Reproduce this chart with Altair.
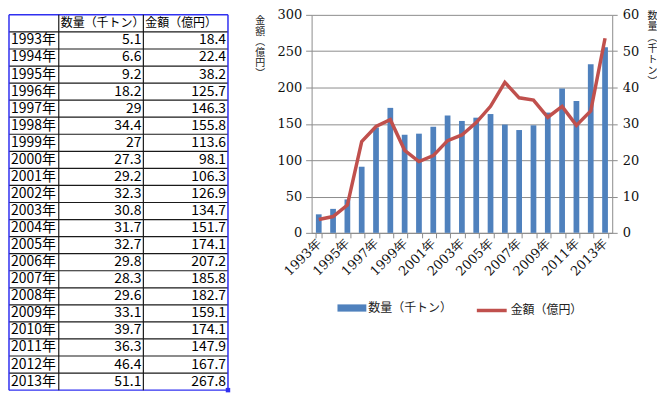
import altair as alt
import pandas as pd

# ---------------- data ----------------
years = ["1993年", "1994年", "1995年", "1996年", "1997年", "1998年", "1999年",
         "2000年", "2001年", "2002年", "2003年", "2004年", "2005年", "2006年",
         "2007年", "2008年", "2009年", "2010年", "2011年", "2012年", "2013年"]
qty = [5.1, 6.6, 9.2, 18.2, 29, 34.4, 27, 27.3, 29.2, 32.3, 30.8, 31.7, 32.7,
       29.8, 28.3, 29.6, 33.1, 39.7, 36.3, 46.4, 51.1]
amt = [18.4, 22.4, 38.2, 125.7, 146.3, 155.8, 113.6, 98.1, 106.3, 126.9, 134.7,
       151.7, 174.1, 207.2, 185.8, 182.7, 159.1, 174.1, 147.9, 167.7, 267.8]
qty_name = "数量（千トン）"
amt_name = "金額（億円）"
amt_axis_title = ["金", "額", "︵", "億", "円", "︶"]
qty_axis_title = ["数", "量", "︵", "千", "ト", "ン", "︶"]
amt_ticks = [0, 50, 100, 150, 200, 250, 300]
qty_ticks = [0, 10, 20, 30, 40, 50, 60]

# ---------------- layout / style ----------------
COL_W = [50, 85, 85]
TABLE_W = sum(COL_W)
TABLE_H = 377
CHART_W = 302
CHART_H = 219
BLUE = "#4F81BD"
RED = "#C0504D"
GRID = "#8C8C8C"
BORDER = "#3030F0"
JP = "Noto Sans CJK JP"
SERIF = "DejaVu Serif"

edges = [0]
for w in COL_W:
    edges.append(edges[-1] + w)
n_rows = len(years) + 1

# ---------------- table ----------------
left_cells = [{"x": edges[1] + 2, "y": 0.5, "t": qty_name, "s": 12},
              {"x": edges[2] + 2, "y": 0.5, "t": amt_name, "s": 12}]
right_cells = []
for i, (yr, q, a) in enumerate(zip(years, qty, amt)):
    r = i + 1.5
    left_cells.append({"x": edges[0] + 2, "y": r, "t": yr, "s": 14})
    right_cells.append({"x": edges[2] - 2, "y": r, "t": f"{q:g}", "s": 14})
    right_cells.append({"x": edges[3] - 2, "y": r, "t": f"{a:g}", "s": 14})

hlines = pd.DataFrame([{"y": k, "x0": 0, "x1": TABLE_W,
                        "c": BORDER if k in (0, n_rows) else "#1a1a1a",
                        "w": 1.5 if k in (0, n_rows) else 1.2}
                       for k in range(n_rows + 1)])
vlines = pd.DataFrame([{"x": e, "y0": 0, "y1": n_rows,
                        "c": BORDER if e in (0, TABLE_W) else "#1a1a1a",
                        "w": 1.5 if e in (0, TABLE_W) else 1.2}
                       for e in edges])

tx = alt.Scale(domain=[0, TABLE_W], nice=False, zero=False)
ty = alt.Scale(domain=[0, n_rows], nice=False, zero=False, reverse=True)

h_rule = alt.Chart(hlines).mark_rule().encode(
    x=alt.X("x0:Q", scale=tx, axis=None), x2="x1:Q",
    y=alt.Y("y:Q", scale=ty, axis=None),
    color=alt.Color("c:N", scale=None),
    strokeWidth=alt.StrokeWidth("w:Q", scale=None))
v_rule = alt.Chart(vlines).mark_rule().encode(
    x=alt.X("x:Q", scale=tx, axis=None),
    y=alt.Y("y0:Q", scale=ty, axis=None), y2="y1:Q",
    color=alt.Color("c:N", scale=None),
    strokeWidth=alt.StrokeWidth("w:Q", scale=None))
t_left = alt.Chart(pd.DataFrame(left_cells)).mark_text(
    align="left", baseline="middle", font=JP, color="#000").encode(
    x=alt.X("x:Q", scale=tx, axis=None), y=alt.Y("y:Q", scale=ty, axis=None),
    text="t:N", size=alt.Size("s:Q", scale=None))
t_right = alt.Chart(pd.DataFrame(right_cells)).mark_text(
    align="right", baseline="middle", font=JP, color="#000").encode(
    x=alt.X("x:Q", scale=tx, axis=None), y=alt.Y("y:Q", scale=ty, axis=None),
    text="t:N", size=alt.Size("s:Q", scale=None))
handle = alt.Chart(pd.DataFrame([{"x": TABLE_W, "y": n_rows}])).mark_square(
    size=20, color=BORDER, opacity=1).encode(
    x=alt.X("x:Q", scale=tx, axis=None), y=alt.Y("y:Q", scale=ty, axis=None))

table = alt.layer(h_rule, v_rule, t_left, t_right, handle).properties(
    width=TABLE_W, height=TABLE_H)

# ---------------- chart ----------------
df = pd.DataFrame({"year": years, "qty": qty, "amt": amt,
                   "qs": [qty_name] * len(years), "as": [amt_name] * len(years)})

xenc = alt.X("year:N", sort=years, title=None,
             scale=alt.Scale(paddingInner=0.6, paddingOuter=0.3),
             axis=alt.Axis(tickBand="extent", tickSize=5, tickColor=GRID,
                           domainColor=GRID, labelAngle=-45, labelAlign="right",
                           labelBaseline="middle", labelFont=SERIF, labelFontSize=13,
                           labelColor="#111", labelPadding=3,
                           labelExpr="parseInt(datum.value) % 2 == 1 ? datum.value : ''"))

bars = alt.Chart(df).mark_bar().encode(
    x=xenc,
    y=alt.Y("qty:Q", scale=alt.Scale(domain=[0, 60], nice=False),
            axis=alt.Axis(orient="right", values=qty_ticks, grid=False,
                          tickSize=5, tickColor=GRID, domainColor=GRID,
                          labelFont=SERIF, labelFontSize=13, labelColor="#111",
                          labelPadding=5, title=qty_axis_title, titleAngle=360,
                          titleFont=JP, titleFontSize=10, titleFontWeight="normal",
                          titleLineHeight=11, titleAlign="center", titleBaseline="top",
                          titleX=40, titleY=-4, titleColor="#222")),
    color=alt.Color("qs:N", scale=alt.Scale(domain=[qty_name], range=[BLUE]),
                    legend=alt.Legend(orient="none", legendX=330, legendY=280,
                                      title=None, direction="horizontal",
                                      symbolType="M-1,-0.25L1,-0.25L1,0.25L-1,0.25Z",
                                      symbolSize=841, symbolStrokeWidth=0,
                                      labelFont=JP, labelFontSize=12, labelColor="#222",
                                      labelOffset=2, padding=0)))

line = alt.Chart(df).mark_line(strokeWidth=3.5).encode(
    x=xenc,
    y=alt.Y("amt:Q", scale=alt.Scale(domain=[0, 300], nice=False),
            axis=alt.Axis(orient="left", values=amt_ticks, grid=True, gridColor=GRID,
                          gridWidth=1, tickSize=6, tickColor=GRID, domainColor=GRID,
                          labelFont=SERIF, labelFontSize=13, labelColor="#111",
                          labelPadding=4, title=amt_axis_title, titleAngle=360,
                          titleFont=JP, titleFontSize=10, titleFontWeight="normal",
                          titleLineHeight=10.5, titleAlign="center", titleBaseline="top",
                          titleX=-52, titleY=1, titleColor="#222")),
    stroke=alt.Stroke("as:N", scale=alt.Scale(domain=[amt_name], range=[RED]),
                      legend=alt.Legend(orient="none", legendX=468, legendY=280,
                                        title=None, direction="horizontal",
                                        symbolType="stroke", symbolSize=900,
                                        symbolStrokeWidth=3.5,
                                        labelFont=JP, labelFontSize=12, labelColor="#222",
                                        labelOffset=2, padding=0)))

chart = alt.layer(bars, line).resolve_scale(y="independent").properties(
    width=CHART_W, height=CHART_H)

full = alt.hconcat(table, chart, spacing=84, bounds="flush").properties(
    padding=0).configure_view(strokeWidth=0)

full.save("out.html", embed_options={"renderer": "svg", "actions": False})
